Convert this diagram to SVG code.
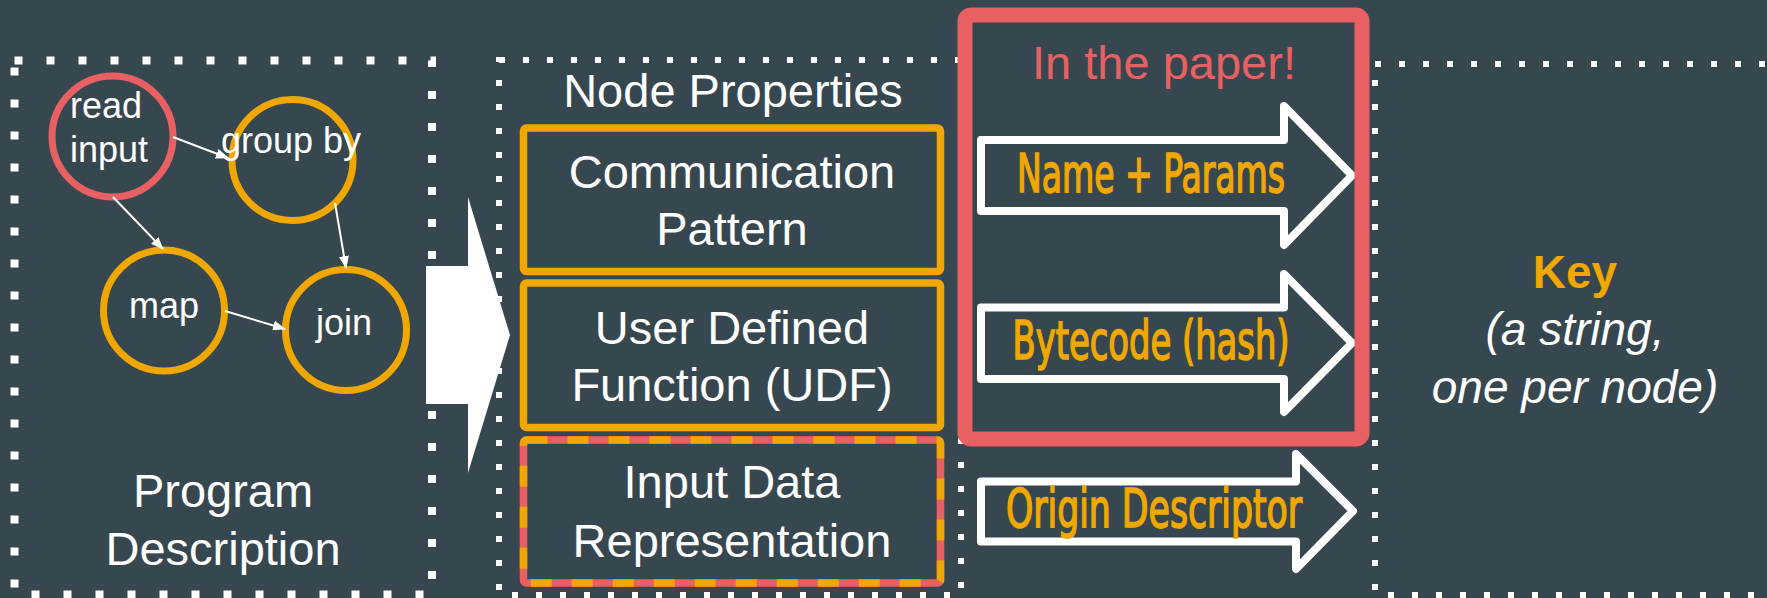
<svg xmlns="http://www.w3.org/2000/svg" width="1767" height="598" viewBox="0 0 1767 598">
<style>
.bg{fill:#37474F}
.dotL{fill:none;stroke:#FFFFFF;stroke-width:8;stroke-dasharray:8 24}
.dotS{fill:none;stroke:#FFFFFF;stroke-width:6;stroke-dasharray:6 18}
.t{font-family:"Liberation Sans",Arial,sans-serif;fill:#FFFFFF}
.t36{font-size:36px}
.t47{font-size:47px;text-anchor:middle}
.orect{fill:none;stroke:#F0A800;stroke-width:7.5}
.circR{fill:none;stroke:#E96063;stroke-width:7}
.circO{fill:none;stroke:#F0A800;stroke-width:7}
.edge{stroke:#FFFFFF;stroke-width:2;fill:none}
.oarrow{fill:none;stroke:#FFFFFF;stroke-width:8;stroke-linejoin:round}
.cond{font-family:"Liberation Sans Narrow","DejaVu Sans Condensed","Liberation Sans",sans-serif;font-weight:normal;fill:#F0A800;stroke:#F0A800;stroke-width:1.6;font-size:53px;text-anchor:middle}
</style>
<defs>
<marker id="ah" markerUnits="userSpaceOnUse" markerWidth="13" markerHeight="10" refX="12" refY="5" orient="auto">
<path d="M0,0 L13,5 L0,10 z" fill="#FFFFFF"/>
</marker>
</defs>
<rect class="bg" x="0" y="0" width="1767" height="598"/>

<g id="box-program">
<rect class="dotL" x="14.5" y="60.5" width="417.5" height="534"/>
<text class="t t47" x="223" y="507">Program</text>
<text class="t t47" x="223" y="565">Description</text>
</g>

<g id="box-node-properties">
<rect class="dotS" x="499" y="60" width="462" height="535"/>
<text class="t t47" x="733" y="107">Node Properties</text>
</g>

<g id="box-key">
<rect class="dotS" x="1375" y="64" width="500" height="531"/>
<text x="1575" y="288" style="font-family:'Liberation Sans',Arial,sans-serif;font-weight:bold;font-size:46px;fill:#F0A800;text-anchor:middle">Key</text>
<text class="t" x="1575" y="345" style="font-style:italic;font-size:46px;text-anchor:middle">(a string,</text>
<text class="t" x="1575" y="403" style="font-style:italic;font-size:46px;text-anchor:middle">one per node)</text>
</g>

<g id="node-read-input">
<circle class="circR" cx="112.5" cy="136.5" r="60.5"/>
<text class="t t36" x="70" y="118">read</text>
<text class="t t36" x="70" y="162">input</text>
</g>
<g id="node-group-by">
<circle class="circO" cx="292.5" cy="160" r="60.5"/>
<text class="t t36" x="291" y="153" text-anchor="middle">group by</text>
</g>
<g id="node-map">
<circle class="circO" cx="164" cy="310.5" r="60.5"/>
<text class="t t36" x="164" y="318" text-anchor="middle">map</text>
</g>
<g id="node-join">
<circle class="circO" cx="346" cy="330" r="60.5"/>
<text class="t t36" x="344" y="335" text-anchor="middle">join</text>
</g>

<g id="connectors">
<line class="edge" x1="173" y1="137" x2="228" y2="158" marker-end="url(#ah)"/>
<line class="edge" x1="113" y1="197" x2="163" y2="249" marker-end="url(#ah)"/>
<line class="edge" x1="335" y1="203" x2="346" y2="268" marker-end="url(#ah)"/>
<line class="edge" x1="225" y1="311" x2="285" y2="329" marker-end="url(#ah)"/>
</g>

<g id="big-arrow">
<polygon points="426,266 468,266 468,197 510,335 468,473 468,404 426,404" fill="#FFFFFF"/>
</g>

<g id="prop-communication">
<rect class="orect" x="523.5" y="128" width="417" height="143.5" rx="3"/>
<text class="t t47" x="732" y="188">Communication</text>
<text class="t t47" x="732" y="245">Pattern</text>
</g>
<g id="prop-udf">
<rect class="orect" x="523.5" y="283" width="417" height="144.5" rx="3"/>
<text class="t t47" x="732" y="344">User Defined</text>
<text class="t t47" x="732" y="401">Function (UDF)</text>
</g>
<g id="prop-input-data">
<rect x="523.5" y="440" width="417" height="143" rx="3" fill="none" stroke="#E96063" stroke-width="7.5"/>
<rect x="523.5" y="440" width="417" height="143" rx="3" fill="none" stroke="#F0A800" stroke-width="7.5" stroke-dasharray="21 20"/>
<text class="t t47" x="732" y="498">Input Data</text>
<text class="t t47" x="732" y="557">Representation</text>
</g>

<g id="arrow-name-params">
<path class="oarrow" d="M981,140 L1284,140 L1284,106 L1352,175.5 L1284,245 L1284,211 L981,211 Z"/>
<text class="cond" x="1151" y="192" textLength="268" lengthAdjust="spacingAndGlyphs">Name + Params</text>
</g>
<g id="arrow-bytecode">
<path class="oarrow" d="M981,307.5 L1284,307.5 L1284,274 L1352,343 L1284,412 L1284,379 L981,379 Z"/>
<text class="cond" x="1151" y="359" textLength="277" lengthAdjust="spacingAndGlyphs">Bytecode (hash)</text>
</g>
<g id="arrow-origin">
<path class="oarrow" d="M981,481.5 L1296,481.5 L1296,454 L1353,511 L1296,569 L1296,541.5 L981,541.5 Z"/>
<text class="cond" x="1154" y="527" textLength="296" lengthAdjust="spacingAndGlyphs">Origin Descriptor</text>
</g>

<g id="in-the-paper">
<rect x="965" y="15" width="397" height="424" rx="6" fill="none" stroke="#E96063" stroke-width="15"/>
<text x="1164" y="79" style="font-family:'Liberation Sans',Arial,sans-serif;font-size:47px;fill:#E96063;text-anchor:middle">In the paper!</text>
</g>
</svg>
